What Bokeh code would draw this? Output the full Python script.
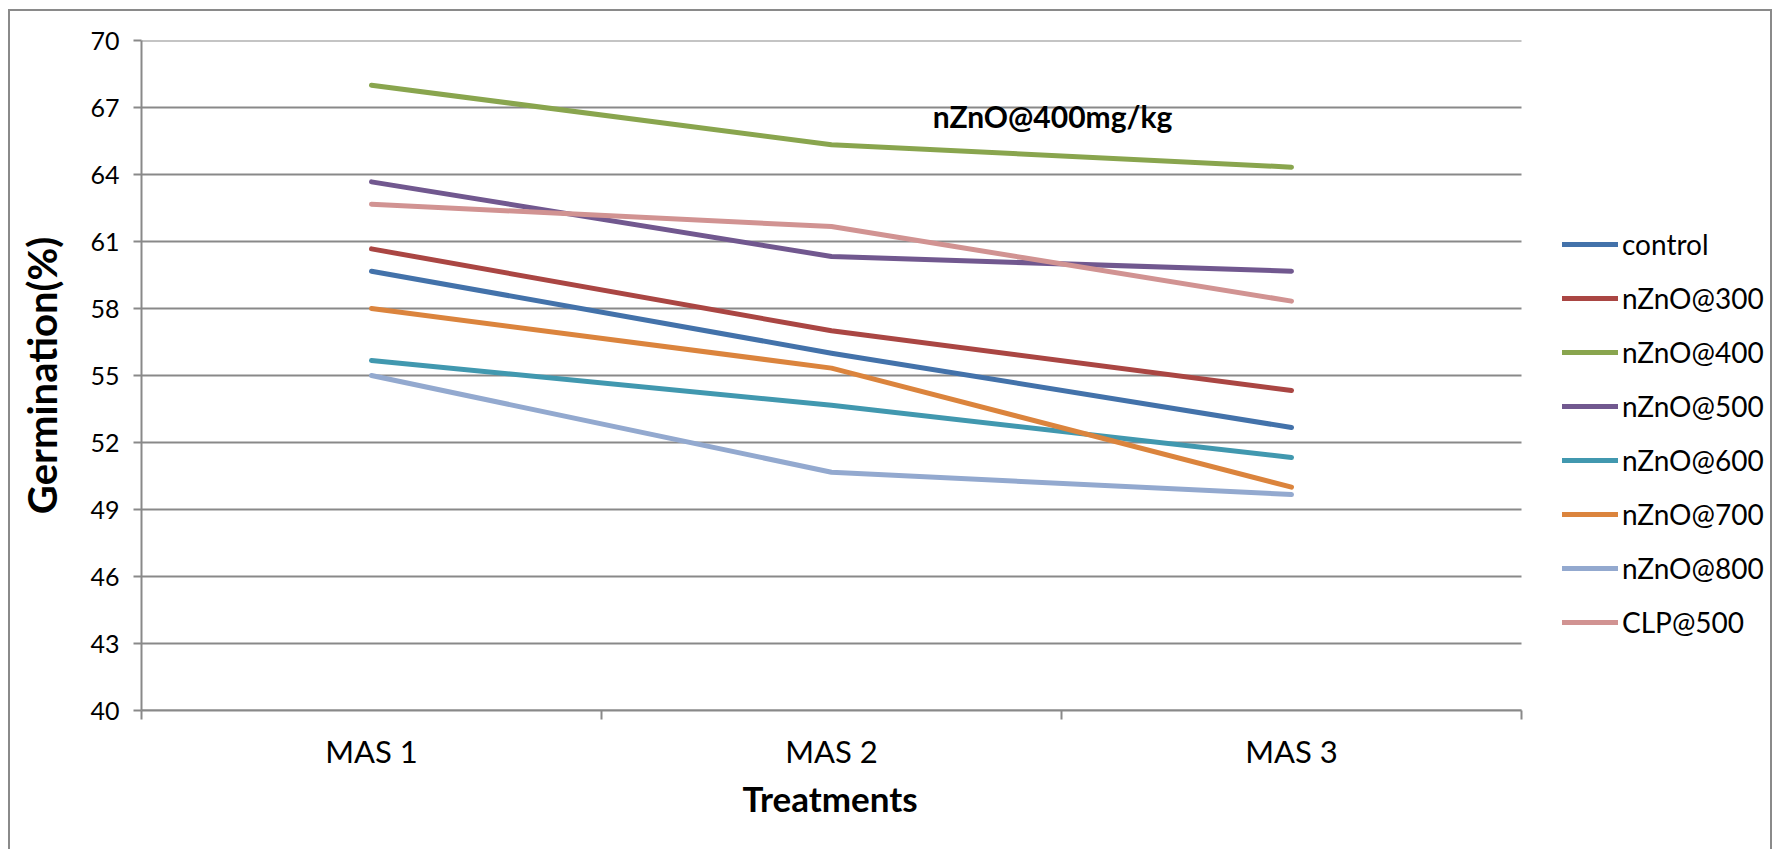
from bokeh.plotting import figure
from bokeh.models import (FixedTicker, Legend, LegendItem, Label, Range1d, ColumnDataSource, Title)
from bokeh.embed import file_html
from bokeh.resources import INLINE

# ---- data ----
categories = ["MAS 1", "MAS 2", "MAS 3"]
series_names = ["control", "nZnO@300", "nZnO@400", "nZnO@500", "nZnO@600",
                "nZnO@700", "nZnO@800", "CLP@500"]
control = [59.67, 56.0, 52.67]
nzno300 = [60.67, 57.0, 54.33]
nzno400 = [68.0, 65.33, 64.33]
nzno500 = [63.67, 60.33, 59.67]
nzno600 = [55.67, 53.67, 51.33]
nzno700 = [58.0, 55.33, 50.0]
nzno800 = [55.0, 50.67, 49.67]
clp500 = [62.67, 61.67, 58.33]
y_ticks = [40, 43, 46, 49, 52, 55, 58, 61, 64, 67, 70]
annotation_text = "nZnO@400mg/kg"
x_title = "Treatments"
y_title = "Germination(%)"

series_values = [control, nzno300, nzno400, nzno500, nzno600, nzno700, nzno800, clp500]
colors = ["#4372AA", "#AA4643", "#89A54E", "#71588F", "#4198AF", "#DB843D", "#93A9CF", "#D19392"]

FONT = "Lato"
GRID = "#898989"

n_cat = len(categories)
x_pos = [i + 0.5 for i in range(n_cat)]

# frame spans to the right edge so the legend is not clipped;
# the plotted category area (0..n_cat) occupies 1380 px of the 1633 px frame
FRAME_W = 1633
PLOT_W = 1380
x_end = n_cat * FRAME_W / PLOT_W

p = figure(width=1764, height=840, output_backend="svg", toolbar_location=None,
           x_range=Range1d(0, x_end), y_range=Range1d(40, 70),
           min_border_left=131, min_border_right=0, min_border_top=29, min_border_bottom=141)
p.styles = {"border": "2px solid #8a8a8a", "border-bottom": "none",
            "margin-left": "8px", "margin-top": "9px"}
p.outline_line_color = None
p.background_fill_color = "white"
p.border_fill_color = "white"

# grid (limited to the category area)
p.xgrid.grid_line_color = None
p.ygrid.grid_line_color = None
grid_src = ColumnDataSource(dict(x0=[0] * len(y_ticks), x1=[n_cat] * len(y_ticks),
                                 y=y_ticks))
p.segment(x0="x0", y0="y", x1="x1", y1="y", source=grid_src, line_color=GRID, line_width=2)

# y axis
p.yaxis.ticker = FixedTicker(ticks=y_ticks)
p.yaxis.axis_line_color = GRID
p.yaxis.axis_line_width = 2
p.yaxis.major_tick_line_color = GRID
p.yaxis.major_tick_line_width = 2
p.yaxis.major_tick_out = 8
p.yaxis.major_tick_in = 0
p.yaxis.minor_tick_line_color = None
p.yaxis.major_label_text_font = FONT
p.yaxis.major_label_text_font_size = "25px"
p.yaxis.major_label_text_color = "black"
p.yaxis.major_label_standoff = 14
p.yaxis.axis_label = y_title
p.yaxis.axis_label_text_font = FONT
p.yaxis.axis_label_text_font_style = "bold"
p.yaxis.axis_label_text_font_size = "40px"
p.yaxis.axis_label_text_color = "black"
p.yaxis.axis_label_standoff = 21

# x axis
p.xaxis.bounds = (0, n_cat)
p.xaxis.ticker = FixedTicker(ticks=x_pos, minor_ticks=list(range(n_cat + 1)))
p.xaxis.major_label_overrides = {x: c for x, c in zip(x_pos, categories)}
p.xaxis.axis_line_color = GRID
p.xaxis.axis_line_width = 2
p.xaxis.major_tick_line_color = None
p.xaxis.major_tick_out = 0
p.xaxis.major_tick_in = 0
p.xaxis.minor_tick_line_color = GRID
p.xaxis.minor_tick_line_width = 2
p.xaxis.minor_tick_out = 9
p.xaxis.minor_tick_in = 0
p.xaxis.major_label_text_font = FONT
p.xaxis.major_label_text_font_size = "31px"
p.xaxis.major_label_text_color = "black"
p.xaxis.major_label_standoff = 12

# x-axis title centred under the category area (not under the wider frame)
xt = Title(text=x_title, align="left", offset=601, text_font=FONT, text_font_style="bold",
           text_font_size="35px", text_color="black", standoff=4)
p.add_layout(xt, "below")

items = []
for name, vals, col in zip(series_names, series_values, colors):
    src = ColumnDataSource(dict(x=x_pos, y=vals))
    r = p.line("x", "y", source=src, line_color=col, line_width=5, line_cap="round",
               line_join="round")
    items.append(LegendItem(label=name, renderers=[r]))

legend = Legend(items=items, location=(1421, 71), orientation="vertical",
                border_line_color=None, background_fill_alpha=0,
                label_text_font=FONT, label_text_font_size="28px", label_text_color="black",
                glyph_width=56, glyph_height=24, label_height=24, label_standoff=4,
                spacing=20, padding=0, margin=0)
p.add_layout(legend, "center")

ann = Label(x=1.72, y=66.6, text=annotation_text, text_font=FONT, text_font_style="bold",
            text_font_size="30px", text_color="black", text_baseline="alphabetic")
p.add_layout(ann)

open("out.html", "w").write(file_html(p, INLINE))
